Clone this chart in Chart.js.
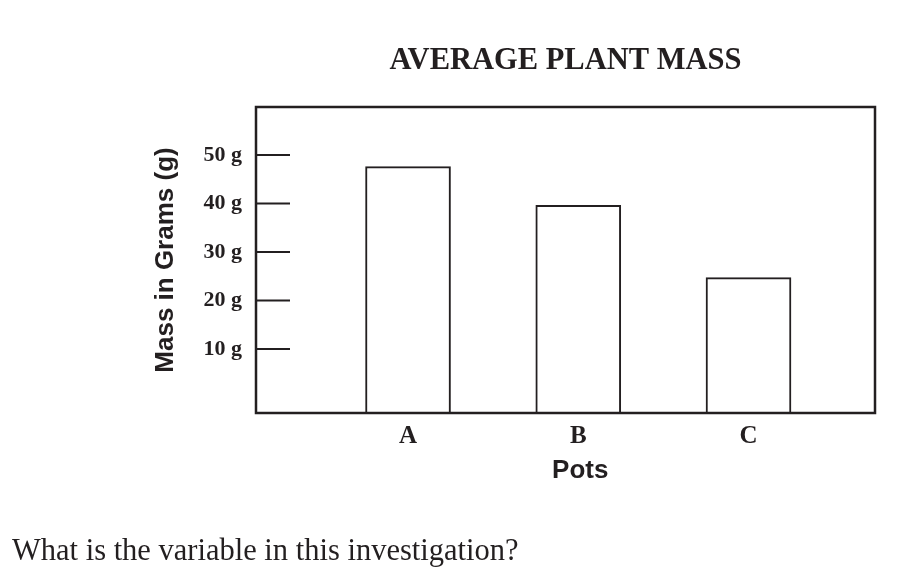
<!DOCTYPE html>
<html>
<head>
<meta charset="utf-8">
<script src="https://cdn.jsdelivr.net/npm/chart.js@4/dist/chart.umd.min.js"></script>
<style>
  body { margin: 0; background: #fff; }
  #wrap { position: relative; width: 918px; height: 581px; }
  #question {
    position: absolute; left: 12px; top: 535px;
    font: 30.5px/30px 'Liberation Serif', serif; color: #231f20;
    white-space: nowrap;
  }
</style>
</head>
<body>
<div id="wrap">
  <canvas id="chart"></canvas>
  <div id="question">What is the variable in this investigation?</div>
</div>
<script>
// data
var pots = ['A', 'B', 'C'];
var masses = [47.6, 39.6, 24.7];
var yTickValues = [10, 20, 30, 40, 50];
var yTickLabels = ['10 g', '20 g', '30 g', '40 g', '50 g'];
var xTitle = 'Pots';

var ink = '#231f20';

// frame round the plot, the short tick marks inside it, and the x title
// (the title sits under the middle pot, not the middle of the frame)
var framePlugin = {
    id: 'frame',
    afterDatasetsDraw: function(chart) {
        var ctx = chart.ctx;
        var area = chart.chartArea;
        var x = chart.scales.x;
        var y = chart.scales.y;
        ctx.save();
        ctx.strokeStyle = ink;
        ctx.lineWidth = 2;
        yTickValues.forEach(function(v) {
            var py = y.getPixelForValue(v);
            ctx.beginPath();
            ctx.moveTo(area.left, py);
            ctx.lineTo(area.left + 34, py);
            ctx.stroke();
        });
        ctx.lineWidth = 2.5;
        ctx.strokeRect(area.left, area.top, area.right - area.left, area.bottom - area.top);

        ctx.fillStyle = ink;
        ctx.font = "bold 26px 'Liberation Sans', Arial, sans-serif";
        ctx.textAlign = 'center';
        ctx.textBaseline = 'middle';
        ctx.fillText(xTitle, x.getPixelForValue(2) + 2, area.bottom + 58);
        ctx.restore();
    }
};

var myChart = new Chart(document.getElementById('chart'), {
    type: 'bar',
    data: {
        datasets: [{
            data: pots.map(function(p, i) { return { x: i + 1, y: masses[i] }; }),
            backgroundColor: '#ffffff',
            borderColor: ink,
            borderWidth: 2,
            barThickness: 85,
            base: -3.2
        }]
    },
    options: {
        responsive: true,
        maintainAspectRatio: false,
        animation: false,
        layout: { padding: { left: 150, right: 43, top: 0, bottom: 120 } },
        plugins: {
            legend: { display: false },
            tooltip: { enabled: false },
            title: {
                display: true,
                text: 'AVERAGE PLANT MASS',
                fullSize: false,
                color: ink,
                font: { family: "'Liberation Serif', serif", size: 30.5, weight: 'bold', lineHeight: 1.2 },
                padding: { top: 43, bottom: 27.4 }
            }
        },
        scales: {
            x: {
                type: 'linear',
                offset: false,
                min: 0.107,
                max: 3.743,
                grid: { display: false, drawTicks: false },
                border: { display: false },
                afterBuildTicks: function(scale) {
                    scale.ticks = pots.map(function(p, i) { return { value: i + 1 }; });
                },
                ticks: {
                    color: ink,
                    padding: 9,
                    font: { family: "'Liberation Serif', serif", size: 25, weight: 'bold', lineHeight: 1.2 },
                    callback: function(v) { return pots[v - 1]; }
                },
                title: { display: false }
            },
            y: {
                min: -3.2,
                max: 59.9,
                grid: { display: false, drawTicks: false },
                border: { display: false },
                afterBuildTicks: function(scale) {
                    scale.ticks = yTickValues.map(function(v) { return { value: v }; });
                },
                ticks: {
                    color: ink,
                    padding: 14,
                    font: { family: "'Liberation Serif', serif", size: 22, weight: 'bold', lineHeight: 1.2 },
                    callback: function(v) { return yTickLabels[yTickValues.indexOf(v)]; }
                },
                title: {
                    display: true,
                    text: 'Mass in Grams (g)',
                    color: ink,
                    font: { family: "'Liberation Sans', Arial, sans-serif", size: 26, weight: 'bold', lineHeight: 1.2 },
                    padding: { top: 0, bottom: 8.3 }
                }
            }
        }
    },
    plugins: [framePlugin]
});
</script>
</body>
</html>
